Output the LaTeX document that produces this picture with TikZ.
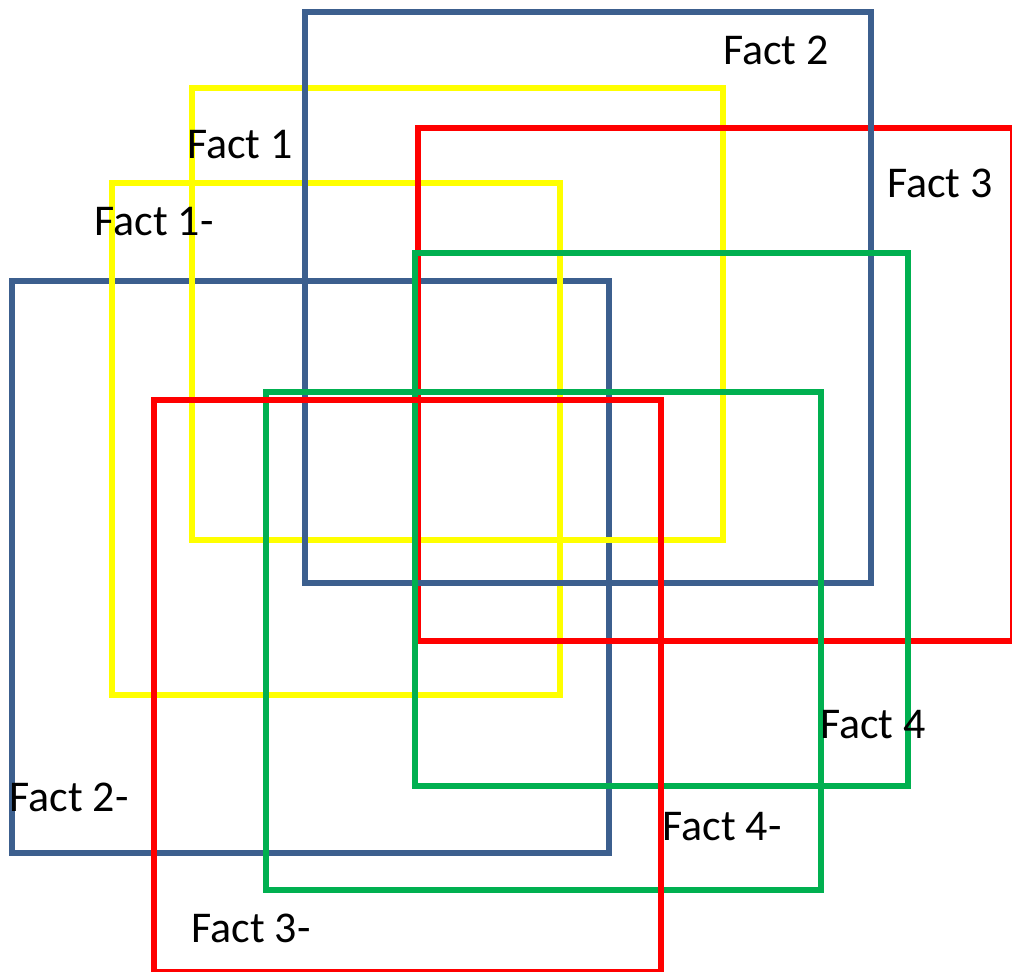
\documentclass[tikz,border=0pt]{standalone}
\usepackage{fontspec}
\setmainfont{Carlito}
\definecolor{factblue}{HTML}{3C5F8E}
\definecolor{factyellow}{HTML}{FFFF00}
\definecolor{factred}{HTML}{FF0000}
\definecolor{factgreen}{HTML}{00B050}
\begin{document}
\begin{tikzpicture}[x=0.02cm, y=-0.02cm, font=\fontsize{25}{29}\selectfont,
    factbox/.style={line width=2.9pt}]
  \useasboundingbox (0,0) rectangle (1012,972);
  \clip (0,0) rectangle (1012,972);
  % boxes, back to front
  \draw[factbox, factblue]   (12,281) rectangle (609,853);
  \draw[factbox, factyellow] (192,88) rectangle (723,540);
  \draw[factbox, factyellow] (112,183) rectangle (560,695);
  \draw[factbox, factred]    (418,128) rectangle (1013,641);
  \draw[factbox, factblue]   (305,12) rectangle (871,583);
  \draw[factbox, factgreen]  (415,253) rectangle (908,786);
  \draw[factbox, factgreen]  (266,392) rectangle (821,890);
  \draw[factbox, factred]    (154,400) rectangle (661,972);

  % labels
  \node (f2)  at (776,50)  {Fact 2};
  \node (f1)  at (240,145) {Fact 1};
  \node (f3)  at (940,183) {Fact 3};
  \node (f1n) at (154,222) {Fact 1-};
  \node (f4)  at (873,725) {Fact 4};
  \node (f2n) at (69,797)  {Fact 2-};
  \node (f4n) at (722,827) {Fact 4-};
  \node (f3n) at (251,928) {Fact 3-};
\end{tikzpicture}
\end{document}
